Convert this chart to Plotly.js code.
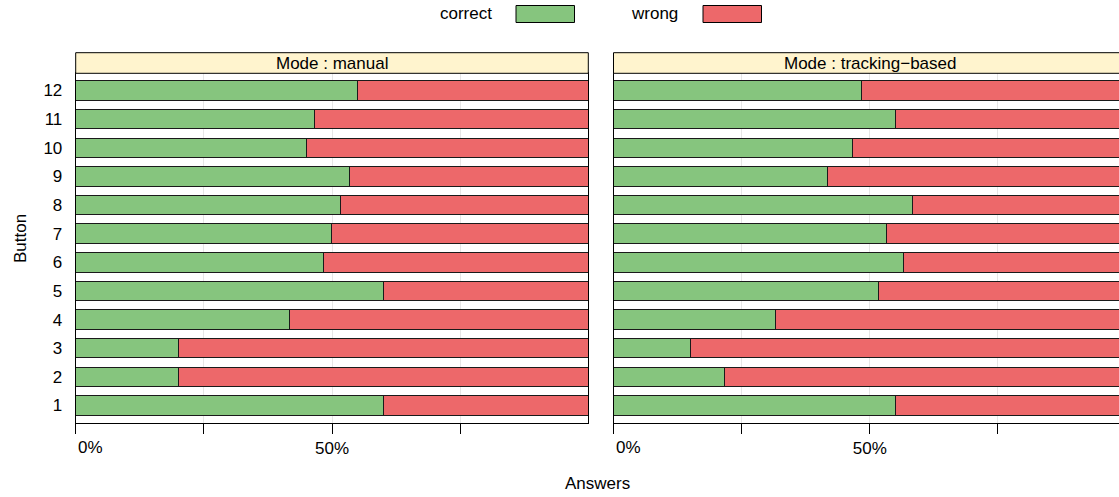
<!DOCTYPE html>
<html>
<head>
<meta charset="utf-8">
<script src="https://cdn.plot.ly/plotly-3.0.1.min.js"></script>
<style>
  html, body { margin: 0; padding: 0; background: #ffffff; }
  #chart { width: 1119px; height: 497px; }
</style>
</head>
<body>
<div id="chart"></div>
<script>
// ---- data (percent of answers) ----
const buttons = [1, 2, 3, 4, 5, 6, 7, 8, 9, 10, 11, 12];
const buttonLabels = ["1", "2", "3", "4", "5", "6", "7", "8", "9", "10", "11", "12"];
const manualCorrect   = [60, 20, 20, 41.67, 60, 48.33, 50, 51.67, 53.33, 45, 46.67, 55];
const manualWrong     = [40, 80, 80, 58.33, 40, 51.67, 50, 48.33, 46.67, 55, 53.33, 45];
const trackingCorrect = [55, 21.67, 15, 31.67, 51.67, 56.67, 53.33, 58.33, 41.67, 46.67, 55, 48.33];
const trackingWrong   = [45, 78.33, 85, 68.33, 48.33, 43.33, 46.67, 41.67, 58.33, 53.33, 45, 51.67];
const panelTitles = ["Mode : manual", "Mode : tracking\u2212based"];
const xTickVals = [0, 25, 50, 75];
const xTickText = ["", "", "50%", ""];
const seriesNames = ["correct", "wrong"];

const GREEN = "#86C57E";
const RED = "#ED686A";
const W = 1119, H = 497;
const FONT = "Liberation Sans, Arial, sans-serif";
const FS = 17;

function px(x) { return x / W; }
function py(y) { return (H - y) / H; }

const barLine = { color: "#1a1a1a", width: 1 };
const barW = 0.68;

const traces = [
  { type: "bar", orientation: "h", y: buttons, x: manualCorrect, name: seriesNames[0],
    marker: { color: GREEN, line: barLine }, width: barW, xaxis: "x", yaxis: "y", showlegend: false, hoverinfo: "x+y" },
  { type: "bar", orientation: "h", y: buttons, x: manualWrong, name: seriesNames[1],
    marker: { color: RED, line: barLine }, width: barW, xaxis: "x", yaxis: "y", showlegend: false, hoverinfo: "x+y" },
  { type: "bar", orientation: "h", y: buttons, x: trackingCorrect, name: seriesNames[0],
    marker: { color: GREEN, line: barLine }, width: barW, xaxis: "x2", yaxis: "y2", showlegend: false, hoverinfo: "x+y" },
  { type: "bar", orientation: "h", y: buttons, x: trackingWrong, name: seriesNames[1],
    marker: { color: RED, line: barLine }, width: barW, xaxis: "x2", yaxis: "y2", showlegend: false, hoverinfo: "x+y" }
];

// panel geometry (pixels)
const p1L = 75.7, p1R = 588.3, p2L = 613.5, panelW = 512.6;
const panelTop = 73.3, panelBot = 422.7, stripTop = 52.7;
const p2VisibleMax = (W - p2L) / panelW * 100;

const xCommon = {
  tickvals: xTickVals, ticktext: xTickText,
  ticks: "outside", ticklen: 10, tickcolor: "#000", tickwidth: 1,
  showline: true, linecolor: "#000", linewidth: 1, mirror: true,
  showgrid: true, gridcolor: "#e6e6e6", gridwidth: 1,
  zeroline: false, fixedrange: true,
  tickfont: { family: FONT, size: FS, color: "#000" },
  ticklabelstandoff: 0
};

const yCommon = {
  range: [0.4, 12.6], tickvals: buttons, ticktext: buttonLabels,
  ticks: "", showline: true, linecolor: "#000", linewidth: 1,
  showgrid: false, zeroline: false, fixedrange: true,
  tickfont: { family: FONT, size: FS, color: "#000" },
  ticklabelstandoff: 9,
  domain: [py(panelBot), py(panelTop)]
};

const layout = {
  width: W, height: H,
  margin: { l: 0, r: 0, t: 0, b: 0, pad: 0 },
  paper_bgcolor: "#fff", plot_bgcolor: "#fff",
  barmode: "stack", bargap: 0,
  showlegend: false,
  font: { family: FONT, size: FS, color: "#000" },
  xaxis: Object.assign({}, xCommon, { domain: [px(p1L), px(p1R)], range: [0, 100], anchor: "y" }),
  yaxis: Object.assign({}, yCommon, { anchor: "x", mirror: true }),
  xaxis2: Object.assign({}, xCommon, { domain: [px(p2L), 1], range: [0, p2VisibleMax], anchor: "y2" }),
  yaxis2: Object.assign({}, yCommon, { anchor: "x2", showticklabels: false, mirror: false }),
  shapes: [
    { type: "rect", xref: "x domain", yref: "paper", x0: 0, x1: 1, y0: py(panelTop), y1: py(stripTop),
      fillcolor: "#FFF4CE", line: { color: "#000", width: 1 }, layer: "above" },
    { type: "rect", xref: "x2 domain", yref: "paper", x0: 0, x1: 1.02, y0: py(panelTop), y1: py(stripTop),
      fillcolor: "#FFF4CE", line: { color: "#000", width: 1 }, layer: "above" },
    // legend keys
    { type: "rect", xref: "paper", yref: "paper", x0: px(516), x1: px(574.5), y0: py(22.5), y1: py(5.5),
      fillcolor: GREEN, line: { color: "#000", width: 1 } },
    { type: "rect", xref: "paper", yref: "paper", x0: px(703), x1: px(761.5), y0: py(22.5), y1: py(5.5),
      fillcolor: RED, line: { color: "#000", width: 1 } }
  ],
  annotations: [
    { text: panelTitles[0], xref: "x", yref: "paper", x: 50, y: py((stripTop + panelTop) / 2),
      xanchor: "center", yanchor: "middle", showarrow: false, font: { family: FONT, size: FS, color: "#000" } },
    { text: panelTitles[1], xref: "x2", yref: "paper", x: 50, y: py((stripTop + panelTop) / 2),
      xanchor: "center", yanchor: "middle", showarrow: false, font: { family: FONT, size: FS, color: "#000" } },
    { text: "0%", xref: "x", yref: "paper", x: 0, y: py(447), xanchor: "left", yanchor: "middle",
      showarrow: false, font: { family: FONT, size: FS, color: "#000" } },
    { text: "0%", xref: "x2", yref: "paper", x: 0, y: py(447), xanchor: "left", yanchor: "middle",
      showarrow: false, font: { family: FONT, size: FS, color: "#000" } },
    { text: "Answers", xref: "paper", yref: "paper", x: px(598), y: py(483), xanchor: "center", yanchor: "middle",
      showarrow: false, font: { family: FONT, size: 17, color: "#000" } },
    { text: "Button", xref: "paper", yref: "paper", x: px(20), y: py(239), xanchor: "center", yanchor: "middle",
      textangle: -90, showarrow: false, font: { family: FONT, size: 17, color: "#000" } },
    { text: seriesNames[0], xref: "paper", yref: "paper", x: px(494), y: py(14), xanchor: "right", yanchor: "middle",
      showarrow: false, font: { family: FONT, size: FS, color: "#000" } },
    { text: seriesNames[1], xref: "paper", yref: "paper", x: px(680), y: py(14), xanchor: "right", yanchor: "middle",
      showarrow: false, font: { family: FONT, size: FS, color: "#000" } }
  ]
};

Plotly.newPlot("chart", traces, layout, { displayModeBar: false, staticPlot: true });
</script>
</body>
</html>
